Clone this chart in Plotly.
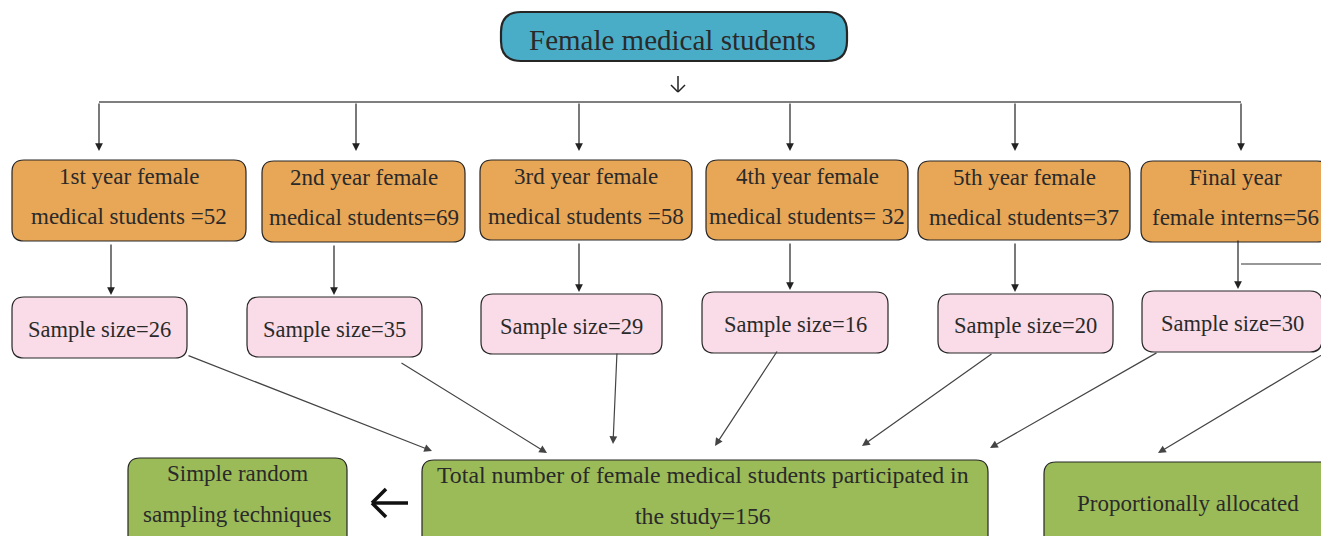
import plotly.graph_objects as go

# ---- data ----
year_labels = ["1st year female", "2nd year female", "3rd year female",
               "4th year female", "5th year female", "Final year"]
year_suffix = ["medical students =", "medical students=", "medical students =",
               "medical students= ", "medical students=", "female interns="]
year_counts = [52, 69, 58, 32, 37, 56]
sample_sizes = [26, 35, 29, 16, 20, 30]
top_title = "Female medical students"
left_note = ["Simple random", "sampling techniques"]
right_note = "Proportionally allocated"
total_participants = sum(sample_sizes)

# ---- layout geometry (page pixels) ----
W, H = 1329, 536
OFF = 8  # default page body margin
orange_boxes = [(12, 246, 160, 241), (262, 465, 161, 242), (480, 692, 160, 240),
                (706, 908, 160, 240), (918, 1130, 161, 240), (1141, 1329, 161, 242)]
drop_x = [99, 356, 579, 790, 1015, 1241]
down_x = [111, 334, 579, 790, 1015, 1238]
pink_boxes = [(12, 187, 297, 358), (247, 422, 297, 357), (481, 662, 294, 354),
              (702, 888, 292, 353), (938, 1113, 294, 353), (1142, 1322, 291, 352)]
diag = [((187, 355), (432, 451)), ((400, 362), (547, 453)), ((617, 352), (613, 444)),
        ((778, 350), (715, 446)), ((993, 353), (862, 446)), ((1158, 352), (990, 448)),
        ((1335, 347), (1158, 453))]

BLUE = "#4AADC7"
ORANGE = "#E8A657"
PINK = "#F9DCE8"
GREEN = "#9BBB59"
EDGE = "#262626"
TXT = "#2a2a2a"
FONT = "Liberation Serif"

fig = go.Figure()
shapes = []
annots = []


def rbox(x0, x1, y0, y1, fill, r=12, w=1.2):
    p = (f"M {x0+r},{y0} L {x1-r},{y0} Q {x1},{y0} {x1},{y0+r} "
         f"L {x1},{y1-r} Q {x1},{y1} {x1-r},{y1} L {x0+r},{y1} "
         f"Q {x0},{y1} {x0},{y1-r} L {x0},{y0+r} Q {x0},{y0} {x0+r},{y0} Z")
    shapes.append(dict(type="path", path=p, xref="x", yref="y", fillcolor=fill,
                       line=dict(color=EDGE, width=w), layer="below"))


def text(x, y, s, size=20):
    annots.append(dict(x=x, y=y, text=s, showarrow=False, xref="x", yref="y",
                       font=dict(family=FONT, size=size, color=TXT)))


def arrow(x0, y0, x1, y1, color="#222", width=1.2, head=2, size=1.3):
    annots.append(dict(x=x1, y=y1, ax=x0, ay=y0, xref="x", yref="y", axref="x", ayref="y",
                       showarrow=True, arrowhead=head, arrowsize=size, arrowwidth=width,
                       arrowcolor=color, text=""))


def line(x0, y0, x1, y1, color="#333", width=1.2):
    shapes.append(dict(type="line", x0=x0, y0=y0, x1=x1, y1=y1, xref="x", yref="y",
                       line=dict(color=color, width=width)))


# top box
rbox(501, 847, 12, 61, BLUE, r=20, w=2.2)
text(672, 40, top_title, size=29)
# small down arrow
line(678, 76, 678, 92, color="#222", width=1.5)
line(671, 85, 678, 92, color="#222", width=1.5)
line(685, 85, 678, 92, color="#222", width=1.5)

# horizontal bus
line(drop_x[0], 102, drop_x[-1], 102, color="#555", width=1.3)
for x in drop_x:
    arrow(x, 102, x, 151)

# orange boxes
for (x0, x1, y0, y1), lab, suf, n in zip(orange_boxes, year_labels, year_suffix, year_counts):
    rbox(x0, x1, y0, y1, ORANGE, r=12)
    cx = (x0 + x1) / 2
    text(cx, y0 + 16, lab, size=23)
    text(cx, y0 + 56, f"{suf}{n}", size=23)

# orange -> pink arrows
for x, ob, pb in zip(down_x, orange_boxes, pink_boxes):
    arrow(x, ob[3] + 2 if x != 1238 else ob[3] - 3, x, pb[2] - 2)
line(1241, 264, 1329, 264, color="#333", width=1.2)

# pink boxes
for (x0, x1, y0, y1), s in zip(pink_boxes, sample_sizes):
    rbox(x0, x1, y0, y1, PINK, r=12)
    text((x0 + x1) / 2, (y0 + y1) / 2 + 2, f"Sample size={s}", size=22.5)

# diagonal arrows
for (a, b) in diag:
    arrow(a[0], a[1], b[0], b[1], color="#444", width=1.2)

# bottom boxes
rbox(128, 347, 458, 560, GREEN, r=12)
text(237, 473, left_note[0], size=23)
text(237, 514, left_note[1], size=23)
rbox(422, 988, 460, 560, GREEN, r=12)
text(703, 475, "Total number of female medical students participated in", size=23.8)
text(703, 516, f"the study={total_participants}", size=23.8)
rbox(1044, 1345, 462, 560, GREEN, r=12)
text(1188, 503, right_note, size=23)

# left arrow
line(372, 503, 408, 503, color="#111", width=3.5)
line(372, 503, 386, 489, color="#111", width=3.5)
line(372, 503, 386, 517, color="#111", width=3.5)

fig.update_layout(
    width=W, height=H, margin=dict(l=0, r=0, t=0, b=0),
    plot_bgcolor="white", paper_bgcolor="white",
    xaxis=dict(range=[OFF, W + OFF], visible=False, fixedrange=True),
    yaxis=dict(range=[H + OFF, OFF], visible=False, fixedrange=True),
    shapes=shapes, annotations=annots, showlegend=False,
)
fig.write_html("out.html")
